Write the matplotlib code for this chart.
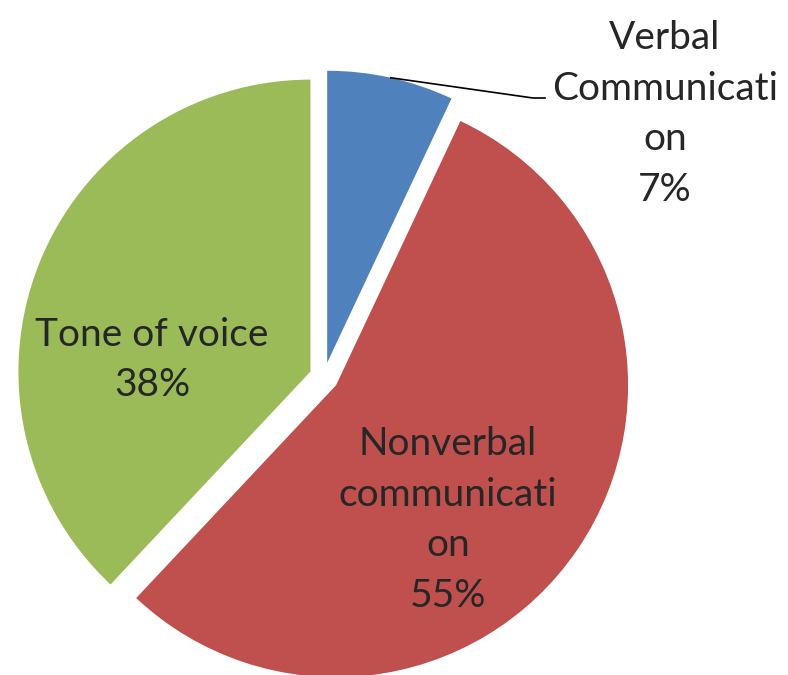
import numpy as np
import matplotlib
matplotlib.use("Agg")
import matplotlib.pyplot as plt

labels = ["Verbal\nCommunicati\non", "Nonverbal\ncommunicati\non", "Tone of voice"]
values = [7, 55, 38]
colors = ["#4F81BD", "#C0504D", "#9BBB59"]
explode = [0.05, 0.05, 0.05]

W, H = 788, 675
cx, cy, R = 324, 377, 292  # pixel centre and radius

fig = plt.figure(figsize=(W / 100, H / 100), dpi=100)
ax = fig.add_axes([0, 0, 1, 1])
plt.rcParams['font.family'] = ['Lato', 'DejaVu Sans']

wedges, _ = ax.pie(values, colors=colors, explode=explode, startangle=90,
                   counterclock=False, radius=1.0,
                   wedgeprops=dict(linewidth=0))

ax.set_aspect('auto')
ax.set_xlim(-cx / R, (W - cx) / R)
ax.set_ylim(-(H - cy) / R, cy / R)
ax.axis('off')

fs = 28
tc = "#262626"
ls = 1.5

def pct(v):
    return f"{v}%"

def px(x, y):
    return (x - cx) / R, (cy - y) / R

# Tone of voice label
ax.text(*px(152, 360), labels[2] + "\n" + pct(values[2]), ha='center', va='center',
        fontsize=fs, color=tc, linespacing=ls)
# Nonverbal label
ax.text(*px(448, 520), labels[1] + "\n" + pct(values[1]), ha='center', va='center',
        fontsize=fs, color=tc, linespacing=ls)
# Verbal label (outside)
ax.text(*px(665, 114), labels[0] + "\n" + pct(values[0]), ha='center', va='center',
        fontsize=fs, color=tc, linespacing=ls)

# leader line from blue wedge
w = wedges[0]
mid = np.deg2rad((w.theta1 + w.theta2) / 2)
ox, oy = w.center
sx, sy = ox + np.cos(mid) * 1.0, oy + np.sin(mid) * 1.0
b1 = px(533, 98)
b2 = px(545, 98)
ax.plot([sx, b1[0], b2[0]], [sy, b1[1], b2[1]], color="#000000", lw=1.2)

fig.savefig("out.png", dpi=100)
